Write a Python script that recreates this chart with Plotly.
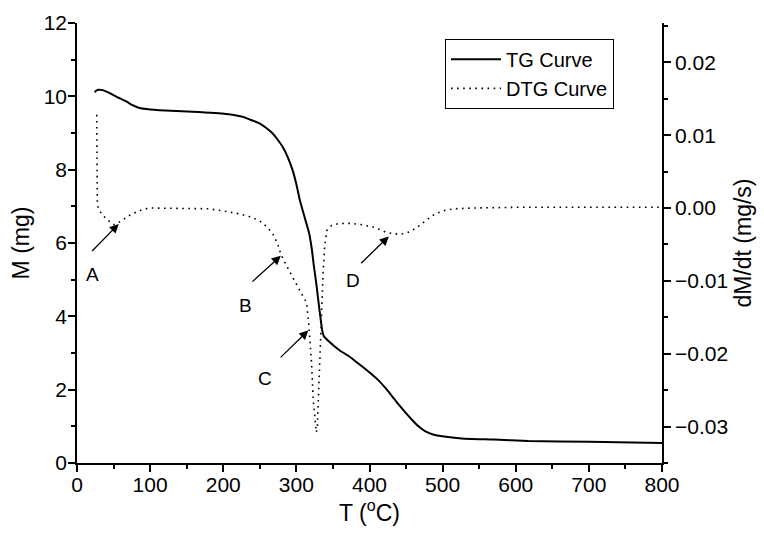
import plotly.graph_objects as go

# TG curve (mass vs temperature)
tg_T = [24.3, 26, 29, 35, 44.6, 55, 67.3, 76, 85.5, 100, 112.8, 158, 203.7, 225, 240, 249, 258, 267,
        274, 281, 288, 294.6, 300, 304.6, 311, 317.4, 321, 324, 327.5, 331, 334, 335.5, 337.8, 342,
        350, 358, 372, 381, 390, 403, 413, 422, 431, 440, 449, 458, 467, 476.5, 488, 499, 526, 570,
        617, 700, 800]
tg_M = [10.11, 10.15, 10.18, 10.17, 10.09, 9.98, 9.86, 9.76, 9.68, 9.64, 9.62, 9.58, 9.52, 9.45, 9.34,
        9.27, 9.15, 9.0, 8.83, 8.63, 8.35, 8.0, 7.6, 7.18, 6.72, 6.27, 5.85, 5.36, 4.85, 4.27, 3.8,
        3.59, 3.45, 3.36, 3.22, 3.09, 2.91, 2.77, 2.63, 2.42, 2.24, 2.04, 1.82, 1.59, 1.38, 1.18, 1.0,
        0.86, 0.77, 0.73, 0.67, 0.64, 0.60, 0.58, 0.545]

# DTG curve (dM/dt vs temperature)
dtg_T = [27, 27, 27.3, 27.8, 30, 40, 51, 60, 75, 90, 100, 150, 180, 200, 222, 240, 250, 260, 268, 274,
         279, 287, 295, 303, 310, 314, 317, 319, 321, 323, 325.5, 327.3, 328.7, 330, 332, 333.7, 335,
         336.5, 338.7, 342, 348, 355, 365, 375, 390, 405, 413, 422, 431, 440, 449, 458, 467, 476, 485,
         495, 504, 517, 540, 600, 700, 800]
dtg_D = [0.0128, 0.008, 0.003, 0.0005, -0.0003, -0.0015, -0.0023, -0.0018, -0.0008, -0.0002, 0.0,
         0.0, -0.0001, -0.0004, -0.0008, -0.0013, -0.0018, -0.0026, -0.0036, -0.0048, -0.0064,
         -0.0080, -0.0096, -0.0110, -0.0123, -0.0130, -0.0160, -0.0190, -0.0217, -0.0263, -0.0290,
         -0.0308, -0.0299, -0.0262, -0.0217, -0.0171, -0.0125, -0.0090, -0.0052, -0.0030, -0.0024,
         -0.0022, -0.0021, -0.0021, -0.0023, -0.0026, -0.0029, -0.0033, -0.0035, -0.0036, -0.0035,
         -0.0031, -0.0025, -0.0018, -0.0011, -0.0006, -0.0003, -0.0001, 0.0, 0.0001, 0.0001, 0.0001]

# Annotated peaks: label, arrow head (T, M), arrow tail (T, M), label position (T, M)
peak_labels = ["A", "B", "C", "D"]
peak_heads = [(57, 6.52), (278.7, 5.65), (316.4, 3.62), (426.4, 6.18)]
peak_tails = [(18.7, 5.74), (237.8, 4.91), (276.4, 2.84), (386.5, 5.41)]
peak_text = [(21.8, 5.15), (231, 4.3), (257, 2.3), (377, 4.98)]

FONT = "Liberation Sans, Arial, sans-serif"

fig = go.Figure()
fig.add_trace(go.Scatter(x=tg_T, y=tg_M, mode="lines", name="TG Curve",
                         line=dict(color="black", width=2, shape="spline", smoothing=0.5)))
fig.add_trace(go.Scatter(x=dtg_T, y=dtg_D, mode="lines", name="DTG Curve", yaxis="y2",
                         line=dict(color="black", width=1.6, dash="1.6px,4.5px")))

axis_common = dict(showline=True, linecolor="black", linewidth=1.5, showgrid=False, zeroline=False,
                   ticks="outside", ticklen=7, tickwidth=1.5, tickcolor="black",
                   tickfont=dict(size=21, color="black", family=FONT))

fig.update_layout(
    width=764, height=542,
    margin=dict(l=77, r=102, t=23, b=79),
    plot_bgcolor="white", paper_bgcolor="white",
    font=dict(family=FONT, color="black"),
    xaxis=dict(range=[0, 800], dtick=100, tick0=0, ticklabelstandoff=-5,
               minor=dict(dtick=50, ticks="outside", ticklen=4, tickwidth=1.5, tickcolor="black"),
               title=dict(text="T (<sup>o</sup>C)", font=dict(size=23), standoff=10),
               **axis_common),
    xaxis2=dict(range=[0, 800], overlaying="x", side="top", showline=True, linecolor="black",
                linewidth=1.5, showgrid=False, zeroline=False, showticklabels=False,
                ticks="inside", ticklen=4, tickwidth=1.2, tickcolor="black", dtick=50, tick0=0),
    yaxis=dict(range=[0, 12], dtick=2, tick0=0, ticklabelstandoff=-3,
               minor=dict(dtick=1, ticks="outside", ticklen=4, tickwidth=1.5, tickcolor="black"),
               title=dict(text="M (mg)", font=dict(size=23), standoff=8),
               **axis_common),
    yaxis2=dict(range=[-0.035, 0.0254], dtick=0.01, tick0=0, tickformat=".2f", overlaying="y",
                side="right",
                minor=dict(dtick=0.005, ticks="outside", ticklen=4, tickwidth=1.5, tickcolor="black"),
                title=dict(text="dM/dt (mg/s)", font=dict(size=23), standoff=8),
                **axis_common),
    legend=dict(x=0.629, y=0.964, xanchor="left", yanchor="top", bordercolor="black", borderwidth=1,
                bgcolor="white", font=dict(size=20, color="black", family=FONT),
                tracegroupgap=0, itemwidth=50),
    showlegend=True,
)

for lab, head, tail, pos in zip(peak_labels, peak_heads, peak_tails, peak_text):
    fig.add_annotation(x=head[0], y=head[1], ax=tail[0], ay=tail[1],
                       xref="x", yref="y", axref="x", ayref="y", text="", showarrow=True,
                       arrowhead=2, arrowsize=1.4, arrowwidth=1.3, arrowcolor="black")
    fig.add_annotation(x=pos[0], y=pos[1], xref="x", yref="y", text=lab,
                       showarrow=False, font=dict(size=19, color="black", family=FONT))

fig.write_html("out.html")
